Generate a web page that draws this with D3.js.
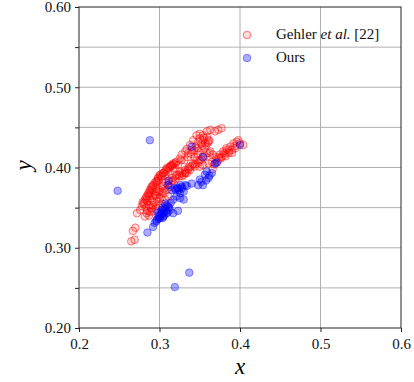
<!DOCTYPE html>
<html><head><meta charset="utf-8">
<script src="https://cdn.jsdelivr.net/npm/d3@7"></script>
<style>body{margin:0;background:#fff}svg{display:block}text{font-family:"Liberation Serif","Times New Roman",serif}</style>
</head><body>
<svg id="c" width="414" height="382"></svg>
<script>
const xTicks = [0.2, 0.3, 0.4, 0.5, 0.6];
const yTicks = [0.20, 0.25, 0.30, 0.35, 0.40, 0.45, 0.50, 0.55, 0.60];
const yLabels = ["0.20", "", "0.30", "", "0.40", "", "0.50", "", "0.60"];
const seriesNames = ["Gehler et al. [22]", "Ours"];
const gehlerX = [0.265,0.269,0.267,0.270,0.272,0.276,0.280,0.284,0.286,0.288,0.290,0.292,0.2965,0.2985,0.301,0.305,0.309,0.313,0.315,0.317,0.321,0.325,0.3275,0.332,0.334,0.338,0.342,0.346,0.350,0.354,0.359,0.363,0.369,0.373,0.377,
0.350,0.354,0.359,0.361,0.357,0.352,0.348,0.345,0.355,0.340,0.336,
0.282,0.284,0.288,0.290,0.292,0.2965,0.301,0.305,0.309,0.313,0.317,0.321,0.325,0.330,0.334,0.338,0.342,0.346,0.350,0.354,0.359,0.363,
0.325,0.332,0.338,0.344,0.350,0.354,0.361,0.365,0.371,0.375,0.379,0.383,0.388,0.392,0.396,0.398,0.400,0.404,0.394,0.386,0.381,0.377,
0.278,0.281,0.283,0.285,0.287,0.289,0.291,0.293,0.295,0.297,0.299,0.303,0.307,0.311,0.319,0.323,0.327,0.285,0.289,0.293,0.297,0.300,0.303,0.306,0.310,0.315,0.320,0.328,0.332,0.336,0.340,0.344,0.348,0.352,0.356,0.362,0.366,0.370,0.374,0.380,0.384,0.390,
0.279,0.282,0.284,0.286,0.288,0.290,0.292,0.294,0.296,0.298,0.300,0.302,0.304,0.306,0.308,0.310,0.312,0.314,0.316,0.318,0.320,0.287,0.291,0.295,0.299,0.303,0.307,0.311,0.296,0.300,0.304,0.308,0.312,0.316,0.320,0.324,0.328,0.332,0.336,0.344,0.348,0.356,0.358,0.360,0.362,0.353,0.349,
0.283,0.287,0.291,0.295,0.299,0.331,0.335,0.339,0.343,0.347,0.366,0.368,0.372,0.376,0.382,0.386,0.390,0.394];
const gehlerY = [0.308,0.310,0.321,0.325,0.343,0.347,0.355,0.360,0.366,0.370,0.374,0.378,0.382,0.386,0.391,0.393,0.397,0.401,0.403,0.405,0.407,0.411,0.416,0.420,0.423,0.428,0.434,0.440,0.442,0.440,0.445,0.447,0.445,0.447,0.449,
0.436,0.434,0.438,0.434,0.430,0.430,0.432,0.426,0.437,0.422,0.418,
0.339,0.343,0.345,0.349,0.353,0.358,0.362,0.368,0.372,0.376,0.384,0.391,0.395,0.391,0.393,0.401,0.405,0.409,0.409,0.413,0.418,0.420,
0.389,0.393,0.397,0.401,0.401,0.403,0.405,0.407,0.413,0.416,0.420,0.424,0.426,0.430,0.432,0.434,0.430,0.428,0.424,0.418,0.416,0.413,
0.352,0.356,0.362,0.358,0.364,0.368,0.372,0.366,0.376,0.380,0.384,0.389,0.391,0.395,0.399,0.403,0.409,0.346,0.350,0.356,0.362,0.366,0.370,0.374,0.378,0.383,0.386,0.389,0.394,0.398,0.402,0.404,0.406,0.410,0.414,0.418,0.416,0.410,0.412,0.418,0.422,0.422,
0.357,0.360,0.364,0.368,0.372,0.376,0.377,0.381,0.383,0.387,0.390,0.389,0.393,0.394,0.398,0.400,0.399,0.402,0.402,0.404,0.406,0.340,0.345,0.348,0.352,0.355,0.360,0.364,0.370,0.372,0.377,0.381,0.384,0.387,0.389,0.391,0.393,0.397,0.400,0.412,0.416,0.424,0.428,0.431,0.433,0.427,0.421,
0.350,0.353,0.359,0.365,0.369,0.409,0.413,0.417,0.421,0.424,0.398,0.404,0.407,0.411,0.414,0.420,0.418,0.427];
const oursX = [0.288,0.248,0.319,0.337,0.285,0.400,0.340,0.354,0.311,0.292,0.294,0.2965,0.2985,0.301,0.303,0.305,0.307,0.309,0.311,0.313,0.317,0.323,0.301,0.305,0.309,0.307,0.317,0.321,0.319,0.323,0.3275,0.3255,0.330,0.3255,0.330,0.332,0.340,0.348,0.350,0.354,0.3565,0.3586,0.361,0.365,0.369,0.371,0.311,0.315,0.299,0.303,
0.296,0.300,0.302,0.304,0.306,0.308,0.310,0.312,0.314,0.320,0.322,0.324,0.326,0.328,0.334,0.352,0.358,0.362,0.298,0.304];
const oursY = [0.434,0.371,0.251,0.269,0.319,0.428,0.426,0.413,0.383,0.326,0.331,0.335,0.339,0.341,0.343,0.343,0.349,0.353,0.351,0.347,0.343,0.346,0.337,0.339,0.343,0.355,0.360,0.364,0.374,0.374,0.376,0.368,0.370,0.362,0.360,0.378,0.380,0.378,0.385,0.378,0.391,0.395,0.387,0.393,0.405,0.406,0.378,0.372,0.336,0.347,
0.333,0.338,0.345,0.337,0.341,0.346,0.344,0.350,0.356,0.372,0.375,0.372,0.378,0.374,0.377,0.382,0.384,0.390,0.344,0.350];

const svg = d3.select("#c");
const L = 79, T = 7, W = 322, H = 321;
const x = d3.scaleLinear().domain([0.2, 0.6]).range([L, L + W]);
const y = d3.scaleLinear().domain([0.2, 0.6]).range([T + H, T]);
const serif = '"Liberation Serif","Times New Roman",serif';

// grid
const g = svg.append("g");
g.selectAll(".gx").data(xTicks.slice(1, -1)).enter().append("line")
  .attr("x1", d => x(d)).attr("x2", d => x(d)).attr("y1", T).attr("y2", T + H)
  .attr("stroke", "#b0b0b0").attr("stroke-width", 1);
g.selectAll(".gy").data(yTicks.slice(1, -1)).enter().append("line")
  .attr("y1", d => y(d)).attr("y2", d => y(d)).attr("x1", L).attr("x2", L + W)
  .attr("stroke", "#b0b0b0").attr("stroke-width", 1);

// points
const gehler = gehlerX.map((v, i) => [v, gehlerY[i]]);
const ours = oursX.map((v, i) => [v, oursY[i]]);
const R = 3.8;
const redFill = "rgba(255,0,0,0.14)", redStroke = "rgba(255,0,0,0.5)";
const blueFill = "rgba(0,0,255,0.33)", blueStroke = "rgba(0,0,255,0.4)";
svg.append("g").selectAll("circle").data(gehler).enter().append("circle")
  .attr("cx", d => x(d[0])).attr("cy", d => y(d[1])).attr("r", R)
  .attr("fill", redFill).attr("stroke", redStroke).attr("stroke-width", 1);
svg.append("g").selectAll("circle").data(ours).enter().append("circle")
  .attr("cx", d => x(d[0])).attr("cy", d => y(d[1])).attr("r", R)
  .attr("fill", blueFill).attr("stroke", blueStroke).attr("stroke-width", 1);

// axes
const xAxis = d3.axisBottom(x).tickValues(xTicks).tickFormat(d3.format(".1f")).tickSize(4).tickSizeOuter(0);
const yAxis = d3.axisLeft(y).tickValues(yTicks).tickFormat((d, i) => yLabels[i]).tickSize(4).tickSizeOuter(0);
const ax = svg.append("g").attr("transform", `translate(0,${T + H})`).call(xAxis);
const ay = svg.append("g").attr("transform", `translate(${L},0)`).call(yAxis);
[ax, ay].forEach(a => {
  a.attr("font-family", null);
  a.select(".domain").remove();
  a.selectAll("line").attr("stroke", "#222");
  a.selectAll("text").style("font-family", serif).style("font-size", "15px").attr("fill", "#111");
});
ax.selectAll("text").attr("dy", "0.95em");
ay.selectAll("text").attr("dx", "-1px");
// frame
svg.append("rect").attr("x", L).attr("y", T).attr("width", W).attr("height", H)
  .attr("fill", "none").attr("stroke", "#222").attr("stroke-width", 1);

// axis labels
svg.append("text").attr("x", x(0.4)).attr("y", 374).attr("text-anchor", "middle")
  .style("font-family", serif).style("font-style", "italic").style("font-size", "23px").text("x");
svg.append("text").attr("transform", `translate(31,${y(0.4) - 2}) rotate(-90)`).attr("text-anchor", "middle")
  .style("font-family", serif).style("font-style", "italic").style("font-size", "23px").text("y");

// legend
const lg = svg.append("g");
lg.append("circle").attr("cx", 247).attr("cy", 35).attr("r", R)
  .attr("fill", redFill).attr("stroke", redStroke);
lg.append("circle").attr("cx", 247).attr("cy", 58).attr("r", R)
  .attr("fill", blueFill).attr("stroke", blueStroke);
const t1 = lg.append("text").attr("x", 276).attr("y", 39).style("font-family", serif).style("font-size", "15px").attr("fill", "#111");
t1.append("tspan").text("Gehler ");
t1.append("tspan").style("font-style", "italic").text("et al.");
t1.append("tspan").text(" [22]");
lg.append("text").attr("x", 276).attr("y", 62).style("font-family", serif).style("font-size", "15px").attr("fill", "#111").text(seriesNames[1]);
</script>
</body></html>
